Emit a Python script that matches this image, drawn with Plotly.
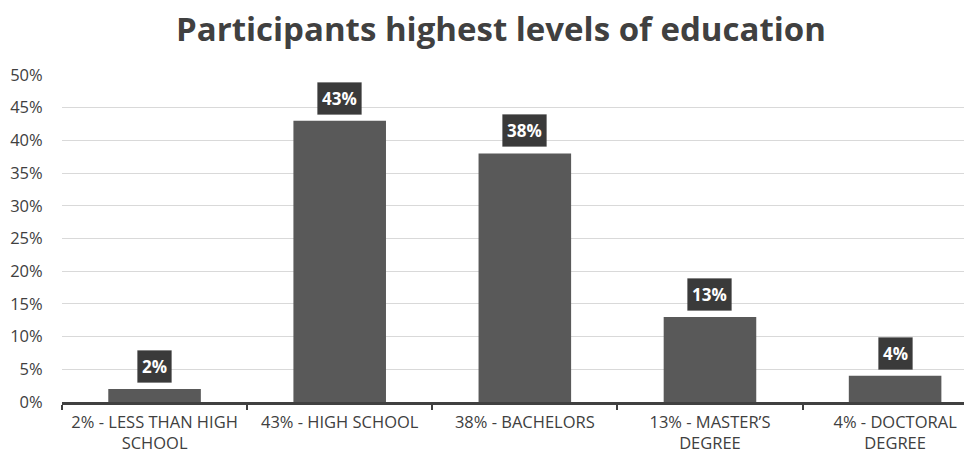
import plotly.graph_objects as go

categories = ["2% - LESS THAN HIGH<br>SCHOOL", "43% - HIGH SCHOOL", "38% - BACHELORS",
              "13% - MASTER’S<br>DEGREE", "4% - DOCTORAL<br>DEGREE"]
values = [2, 43, 38, 13, 4]
value_labels = ["2%", "43%", "38%", "13%", "4%"]
y_ticks = [0, 5, 10, 15, 20, 25, 30, 35, 40, 45, 50]
y_tick_labels = ["0%", "5%", "10%", "15%", "20%", "25%", "30%", "35%", "40%", "45%", "50%"]

FONT = "Open Sans"
TXT = "#404040"

fig = go.Figure()
fig.add_trace(go.Bar(x=categories, y=values, marker_color="#595959", width=0.5,
                     marker_line_width=0, hoverinfo="skip"))

annotations = []
for c, v, lab in zip(categories, values, value_labels):
    annotations.append(dict(x=c, y=v, xref="x", yref="y", text="<b>%s</b>" % lab, showarrow=False,
                            yanchor="bottom", yshift=6,
                            font=dict(family=FONT, size=17, color="white"),
                            bgcolor="#3a3a3a", borderpad=4,
                            bordercolor="rgba(0,0,0,0.15)", borderwidth=1))

# page body has an 8px margin, so the figure is sized/offset to fit the 972x454 window
fig.update_layout(
    width=964, height=446,
    margin=dict(l=54, r=1, t=67, b=52),
    paper_bgcolor="white", plot_bgcolor="white",
    showlegend=False,
    title=dict(text="<b>Participants highest levels of education</b>",
               x=0.5114, xref="container", xanchor="center",
               y=0.951, yref="container", yanchor="middle",
               font=dict(family=FONT, size=33, color=TXT)),
    annotations=annotations,
    bargap=0.5,
)
fig.update_xaxes(type="category", range=[-0.5, 4.41], tickson="boundaries",
                 ticks="outside", ticklen=5, tickwidth=2, tickcolor=TXT,
                 showline=True, linecolor=TXT, linewidth=3,
                 ticklabelstandoff=3,
                 tickfont=dict(family=FONT, size=16.5, color=TXT),
                 showgrid=False, fixedrange=True, automargin=False)
fig.update_yaxes(range=[0, 50], tickvals=y_ticks, ticktext=y_tick_labels,
                 showgrid=True, gridcolor="#d9d9d9", gridwidth=1,
                 zeroline=False, showline=False,
                 ticks="outside", ticklen=15, tickcolor="rgba(0,0,0,0)",
                 tickfont=dict(family=FONT, size=16.5, color=TXT), fixedrange=True,
                 automargin=False)

fig.write_html("out.html")
